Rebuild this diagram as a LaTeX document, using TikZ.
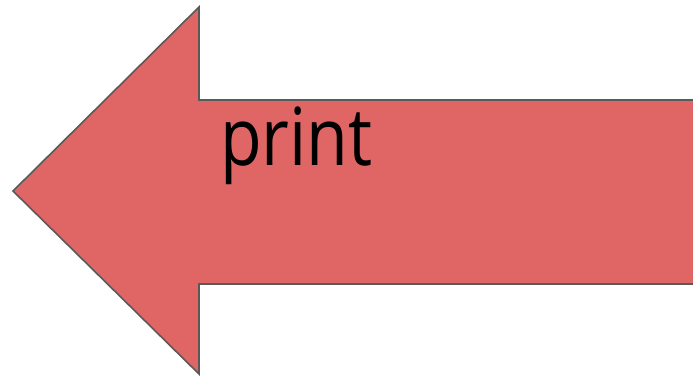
\documentclass[tikz,border=0pt]{standalone}
\usepackage{fontspec}
\setmainfont{Open Sans}
\usepackage{tikz}
\definecolor{arrowred}{HTML}{E06666}
\definecolor{edgegray}{HTML}{595959}

\begin{document}
\begin{tikzpicture}[x=1pt,y=1pt,arr/.style={draw=edgegray,line width=1.6pt,fill=arrowred,line join=miter},lbl/.style={font=\fontsize{80}{82}\selectfont,text=black,inner sep=0pt,anchor=base west,xscale=0.85}]
\useasboundingbox (0,0) rectangle (693,376);
\draw[arr] (13,185)--(199,369)--(199,276)--(700,276)--(700,92)--(199,92)--(199,2)--cycle;
\node[lbl] (print) at (220,211) {print};
\end{tikzpicture}
\end{document}
